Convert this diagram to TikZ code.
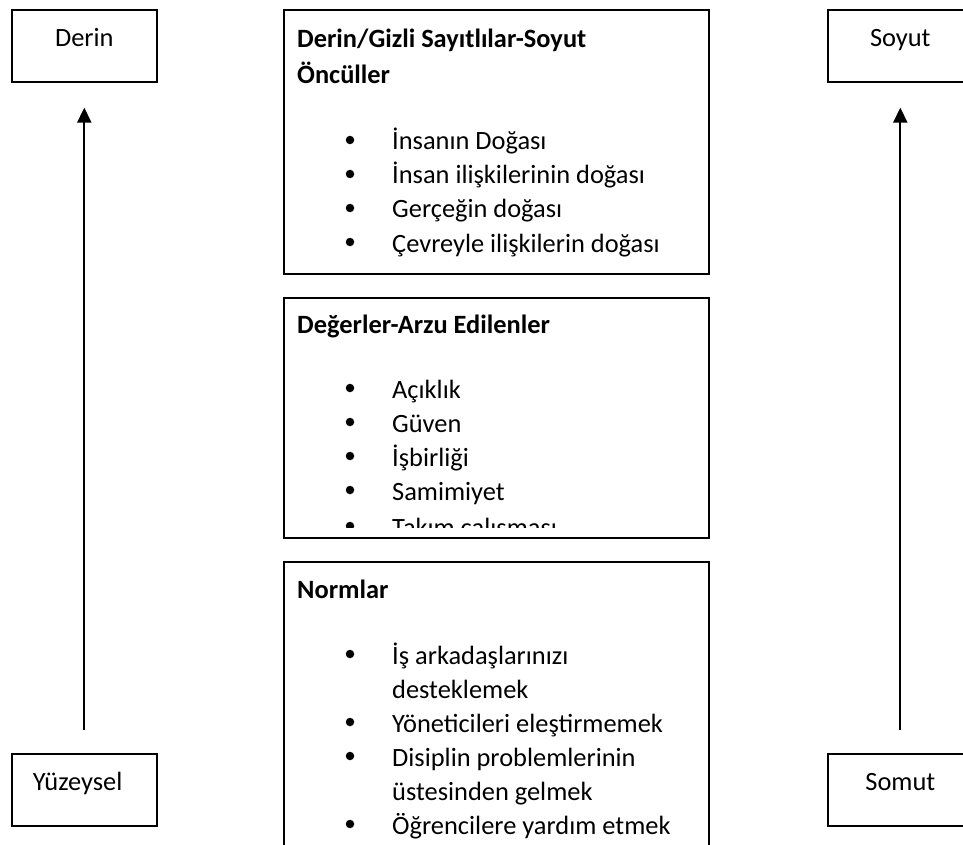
\documentclass[tikz,border=0pt]{standalone}
\usepackage{fontspec}
\setmainfont{Carlito}
\usetikzlibrary{arrows.meta}
\begin{document}
\begin{tikzpicture}[x=1pt,y=-1pt,
  every node/.style={font=\fontsize{26.4}{34}\selectfont},
  sidebox/.style={draw, line width=1.6pt, minimum width=145pt, minimum height=72pt,
    inner xsep=0pt, inner ysep=9pt, text height=28pt, text depth=26pt, anchor=north west},
  panel/.style={draw, line width=1.6pt, anchor=north west, inner sep=0pt, minimum width=425pt},
  txt/.style={anchor=base west, inner sep=0pt},
  head/.style={txt, font=\fontsize{26.4}{34}\selectfont\bfseries},
  dot/.style={circle, fill, inner sep=0pt, minimum size=8.5pt},
  rise/.style={line width=2pt, -{Triangle[length=15pt,width=14pt]}}
]
\newcommand\pitem[3]{%
  \node[dot] (#1d) at (350,{#2-10}) {};
  \node[txt] (#1) at (392,#2) {#3};}

\useasboundingbox (0,0) rectangle (963,845);
\clip (0,0) rectangle (963,845);

% side scale: deep/surface and abstract/concrete
\node[sidebox] (derin) at (11,9) {Derin};
\node[sidebox, text width=103pt, align=left] (yuz) at (11,753) {Yüzeysel};
\node[sidebox] (soyut) at (827,9) {Soyut};
\node[sidebox] (somut) at (827,753) {Somut};

\draw[rise] ([yshift=23pt]yuz.north) -- ([yshift=-25pt]derin.south);
\draw[rise] ([yshift=23pt]somut.north) -- ([yshift=-25pt]soyut.south);

% central panels
\node[panel, minimum height=264pt] (box1) at (283,9) {};
\node[panel, minimum height=240pt] (box2) at (283,297) {};
\node[panel, minimum height=300pt] (box3) at (283,561) {};

% panel 1
\node[head] (h1a) at (297,48) {Derin/Gizli Sayıtlılar-Soyut};
\node[head] (h1b) at (297,84) {Öncüller};
\pitem{a1}{150}{İnsanın Doğası}
\pitem{a2}{184}{İnsan ilişkilerinin doğası}
\pitem{a3}{218}{Gerçeğin doğası}
\pitem{a4}{252}{Çevreyle ilişkilerin doğası}

% panel 2 (its last line runs under the frame)
\begin{scope}
\clip (283,297) rectangle (708,527);
\node[head] (h2) at (297,333) {Değerler-Arzu Edilenler};
\pitem{b1}{398}{Açıklık}
\pitem{b2}{432}{Güven}
\pitem{b3}{466}{İşbirliği}
\pitem{b4}{500}{Samimiyet}
\pitem{b5}{536}{Takım çalışması}
\end{scope}

% panel 3
\node[head] (h3) at (297,598) {Normlar};
\pitem{c1}{664}{İş arkadaşlarınızı}
\node[txt] (c1b) at (392,698) {desteklemek};
\pitem{c2}{732}{Yöneticileri eleştirmemek}
\pitem{c3}{766}{Disiplin problemlerinin}
\node[txt] (c3b) at (392,800) {üstesinden gelmek};
\pitem{c4}{834}{Öğrencilere yardım etmek}
\end{tikzpicture}
\end{document}
